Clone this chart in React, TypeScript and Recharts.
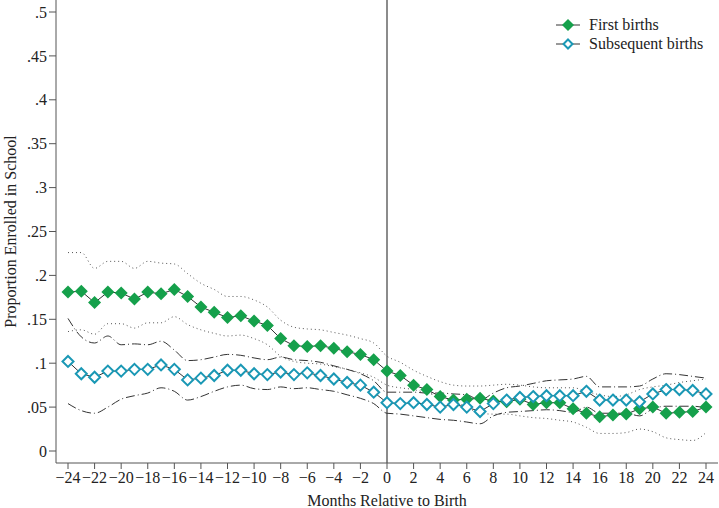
import { LineChart, Line, XAxis, YAxis, ReferenceLine } from 'recharts';

const months = [
  -24, -23, -22, -21, -20, -19, -18, -17, -16, -15, -14, -13, -12, -11, -10, -9, -8, -7, -6, -5, -4, -3, -2, -1,
  0, 1, 2, 3, 4, 5, 6, 7, 8, 9, 10, 11, 12, 13, 14, 15, 16, 17, 18, 19, 20, 21, 22, 23, 24,
];

const firstBirths = [
  0.181, 0.182, 0.169, 0.181, 0.18, 0.173, 0.181, 0.179, 0.184, 0.176, 0.164, 0.158, 0.152, 0.154, 0.148, 0.143,
  0.128, 0.12, 0.119, 0.12, 0.117, 0.113, 0.11, 0.104, 0.091, 0.086, 0.075, 0.07, 0.062, 0.058, 0.059, 0.06, 0.057,
  0.056, 0.059, 0.053, 0.055, 0.055, 0.048, 0.043, 0.039, 0.041, 0.042, 0.048, 0.05, 0.043, 0.044, 0.045, 0.05,
];

const subsequentBirths = [
  0.102, 0.088, 0.084, 0.091, 0.091, 0.093, 0.093, 0.098, 0.093, 0.081, 0.083, 0.086, 0.092, 0.092, 0.088, 0.087,
  0.09, 0.087, 0.089, 0.086, 0.082, 0.078, 0.075, 0.067, 0.055, 0.054, 0.055, 0.053, 0.05, 0.053, 0.05, 0.045, 0.054,
  0.058, 0.061, 0.062, 0.063, 0.063, 0.063, 0.068, 0.058, 0.058, 0.058, 0.056, 0.065, 0.07, 0.07, 0.069, 0.065,
];

// 95% CI, first births (dotted)
const firstUpper = [
  0.226, 0.226, 0.208, 0.216, 0.216, 0.208, 0.216, 0.214, 0.213, 0.202, 0.191, 0.184, 0.176, 0.176, 0.172, 0.164,
  0.149, 0.141, 0.139, 0.138, 0.135, 0.132, 0.128, 0.123, 0.108, 0.101, 0.092, 0.085, 0.079, 0.075, 0.074, 0.074,
  0.075, 0.076, 0.075, 0.073, 0.072, 0.072, 0.072, 0.068, 0.064, 0.062, 0.064, 0.07, 0.073, 0.075, 0.078, 0.08, 0.082,
];
const firstLower = [
  0.136, 0.138, 0.133, 0.145, 0.145, 0.14, 0.146, 0.146, 0.153, 0.144, 0.138, 0.134, 0.131, 0.132, 0.128, 0.121,
  0.108, 0.102, 0.1, 0.099, 0.096, 0.093, 0.089, 0.084, 0.075, 0.072, 0.07, 0.066, 0.062, 0.057, 0.05, 0.043, 0.042,
  0.042, 0.04, 0.038, 0.037, 0.035, 0.033, 0.027, 0.02, 0.02, 0.021, 0.025, 0.022, 0.015, 0.013, 0.012, 0.021,
];

// 95% CI, subsequent births (dash-dot)
const subUpper = [
  0.151, 0.13, 0.123, 0.131, 0.121, 0.122, 0.121, 0.125, 0.115, 0.103, 0.104, 0.107, 0.11, 0.109, 0.106, 0.104,
  0.107, 0.104, 0.103, 0.101, 0.097, 0.093, 0.088, 0.08, 0.067, 0.067, 0.067, 0.066, 0.066, 0.065, 0.064, 0.058,
  0.066, 0.072, 0.074, 0.077, 0.08, 0.081, 0.082, 0.085, 0.073, 0.073, 0.073, 0.074, 0.082, 0.088, 0.087, 0.085, 0.083,
];
const subLower = [
  0.054, 0.046, 0.043, 0.05, 0.059, 0.063, 0.066, 0.072, 0.068, 0.058, 0.062, 0.068, 0.073, 0.075, 0.071, 0.07,
  0.073, 0.071, 0.072, 0.07, 0.068, 0.064, 0.06, 0.054, 0.043, 0.042, 0.04, 0.038, 0.036, 0.035, 0.033, 0.031, 0.04,
  0.044, 0.045, 0.046, 0.047, 0.046, 0.044, 0.05, 0.043, 0.043, 0.043, 0.04, 0.048, 0.051, 0.051, 0.051, 0.049,
];

const xTicks = [-24, -22, -20, -18, -16, -14, -12, -10, -8, -6, -4, -2, 0, 2, 4, 6, 8, 10, 12, 14, 16, 18, 20, 22, 24];
const yTicks = [0, 0.05, 0.1, 0.15, 0.2, 0.25, 0.3, 0.35, 0.4, 0.45, 0.5];

const data = months.map((m, i) => ({
  month: m,
  first: firstBirths[i],
  subsequent: subsequentBirths[i],
  firstHi: firstUpper[i],
  firstLo: firstLower[i],
  subHi: subUpper[i],
  subLo: subLower[i],
}));

const GREEN = '#15a04b';
const TEAL = '#1a98b5';
const FONT = '"Liberation Serif", "DejaVu Serif", serif';

function diamondPath(cx: number, cy: number, r: number) {
  return `M${cx},${cy - r} L${cx + r},${cy} L${cx},${cy + r} L${cx - r},${cy} Z`;
}

const FilledDot = (props: any) => {
  const { cx, cy, index } = props;
  if (cx == null || cy == null) return null;
  return <path key={`f${index}`} d={diamondPath(cx, cy, 6.5)} fill={GREEN} />;
};

const HollowDot = (props: any) => {
  const { cx, cy, index } = props;
  if (cx == null || cy == null) return null;
  return <path key={`s${index}`} d={diamondPath(cx, cy, 5.5)} fill="#fff" stroke={TEAL} strokeWidth={2} />;
};

const fmtX = (v: number) => String(v).replace('-', '\u2212');
const fmtY = (v: number) => (v === 0 ? '0' : String(v).replace('0.', '.'));

function LegendBox() {
  const items = [
    { label: 'First births', filled: true },
    { label: 'Subsequent births', filled: false },
  ];
  return (
    <div style={{ position: 'absolute', left: 555, top: 15, fontFamily: FONT, fontSize: 16, color: '#222' }}>
      {items.map((it) => (
        <div key={it.label} style={{ display: 'flex', alignItems: 'center', height: 19 }}>
          <svg width={26} height={14} style={{ marginRight: 8 }}>
            <line x1={1} y1={7} x2={25} y2={7} stroke="#333" strokeWidth={1} />
            {it.filled ? (
              <path d={diamondPath(13, 7, 6)} fill={GREEN} />
            ) : (
              <path d={diamondPath(13, 7, 4.5)} fill="#fff" stroke={TEAL} strokeWidth={2} />
            )}
          </svg>
          <span>{it.label}</span>
        </div>
      ))}
    </div>
  );
}

export default function App() {
  return (
    <div style={{ position: 'absolute', left: 0, top: 0, width: 719, height: 508, background: '#fff' }}>
      <LineChart width={719} height={508} data={data} margin={{ top: 0, right: 1, left: 0, bottom: 0 }}>
        <XAxis
          dataKey="month"
          type="number"
          domain={[-24, 24]}
          ticks={xTicks}
          interval={0}
          tickFormatter={fmtX}
          padding={{ left: 12, right: 12 }}
          height={45}
          tickSize={6}
          tickMargin={3}
          stroke="#555"
          tick={{ fontSize: 16, fill: '#222', fontFamily: FONT }}
          label={{
            value: 'Months Relative to Birth',
            position: 'insideBottom',
            offset: 2,
            style: { fontSize: 16, fill: '#222', fontFamily: FONT },
          }}
        />
        <YAxis
          type="number"
          domain={[0, 0.5]}
          ticks={yTicks}
          interval={0}
          tickFormatter={fmtY}
          padding={{ top: 12, bottom: 12 }}
          width={56}
          tickSize={7}
          tickMargin={2}
          stroke="#555"
          tick={{ fontSize: 16, fill: '#222', fontFamily: FONT }}
          label={{
            value: 'Proportion Enrolled in School',
            angle: -90,
            position: 'insideLeft',
            offset: 10,
            style: { fontSize: 16, fill: '#222', fontFamily: FONT, textAnchor: 'middle' },
          }}
        />
        <ReferenceLine x={0} stroke="#666" strokeWidth={1.5} />
        <Line dataKey="firstHi" type="monotone" stroke="#555" strokeWidth={1} strokeDasharray="1 3" dot={false} isAnimationActive={false} />
        <Line dataKey="firstLo" type="monotone" stroke="#555" strokeWidth={1} strokeDasharray="1 3" dot={false} isAnimationActive={false} />
        <Line dataKey="subHi" type="monotone" stroke="#333" strokeWidth={1} strokeDasharray="9 3 1 3" dot={false} isAnimationActive={false} />
        <Line dataKey="subLo" type="monotone" stroke="#333" strokeWidth={1} strokeDasharray="9 3 1 3" dot={false} isAnimationActive={false} />
        <Line dataKey="first" name="First births" type="linear" stroke="#333" strokeWidth={1} dot={<FilledDot />} activeDot={false} isAnimationActive={false} />
        <Line dataKey="subsequent" name="Subsequent births" type="linear" stroke="#333" strokeWidth={1} dot={<HollowDot />} activeDot={false} isAnimationActive={false} />
      </LineChart>
      <LegendBox />
    </div>
  );
}
